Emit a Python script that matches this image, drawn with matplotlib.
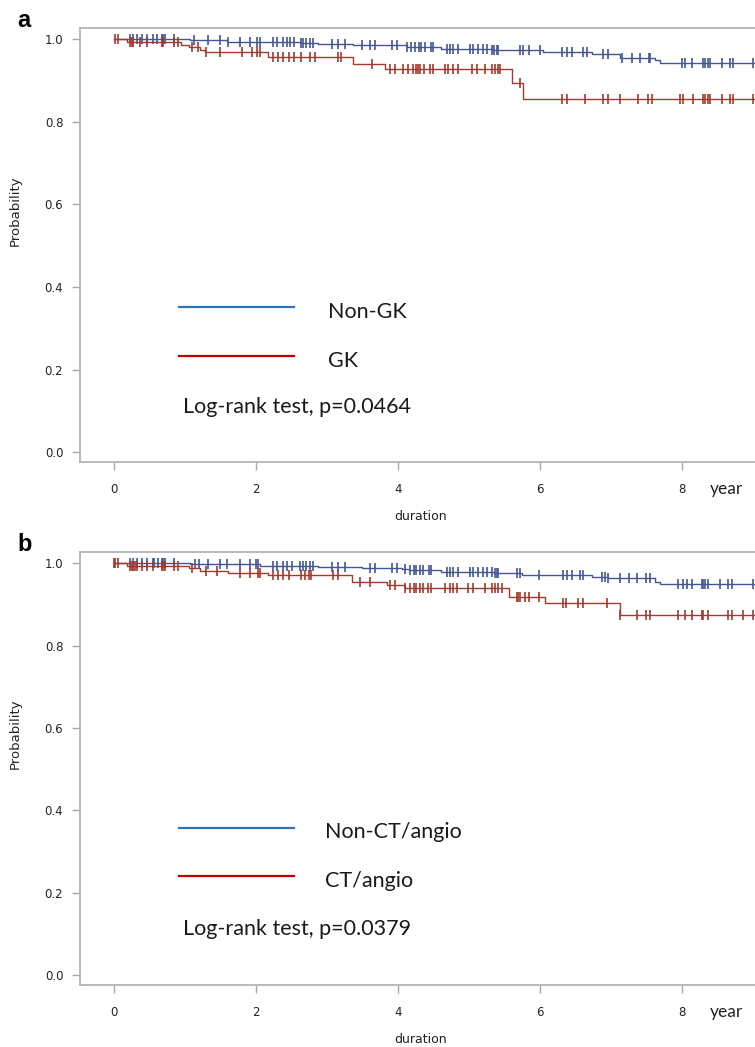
import numpy as np
import matplotlib
matplotlib.use("Agg")
import matplotlib.pyplot as plt
from matplotlib.lines import Line2D

plt.rcParams['font.family'] = ['Liberation Sans Narrow', 'DejaVu Sans']

# Panel a: Non-GK vs GK
a_blue_t = [0, 1.07, 1.59, 2.62, 2.88, 3.37, 4.12, 4.6, 5.32, 6.04, 6.73, 7.13, 7.62, 7.69]
a_blue_s = [1.0, 0.997, 0.994, 0.991, 0.988, 0.985, 0.981, 0.977, 0.973, 0.968, 0.965, 0.955, 0.949, 0.943]
a_blue_cens = [0.225, 0.27, 0.32, 0.39, 0.46, 0.55, 0.60, 0.67, 0.69, 0.72, 0.84, 1.12, 1.33, 1.49, 1.6,
               1.77, 1.92, 2.02, 2.05, 2.24, 2.29, 2.38, 2.43, 2.48, 2.53, 2.63, 2.66, 2.71, 2.76, 2.8,
               3.07, 3.16, 3.25, 3.49, 3.6, 3.68, 3.91, 3.98, 4.13, 4.19, 4.24, 4.3, 4.33, 4.38, 4.47,
               4.49, 4.69, 4.73, 4.78, 4.85, 5.01, 5.06, 5.13, 5.2, 5.25, 5.33, 5.35, 5.39, 5.41, 5.72,
               5.76, 5.84, 6.0, 6.31, 6.38, 6.45, 6.61, 6.66, 6.89, 6.96, 7.15, 7.29, 7.41, 7.53, 7.55,
               8.0, 8.04, 8.14, 8.3, 8.33, 8.36, 8.39, 8.56, 8.68, 8.72, 9.0]

a_red_t = [0, 0.18, 0.95, 1.05, 1.21, 1.28, 2.17, 3.37, 3.82, 5.6, 5.76]
a_red_s = [1.0, 0.992, 0.986, 0.980, 0.974, 0.968, 0.956, 0.941, 0.927, 0.895, 0.856]
a_red_cens = [0.02, 0.05, 0.22, 0.25, 0.27, 0.37, 0.46, 0.67, 0.69, 0.84, 0.9, 1.1, 1.18, 1.3, 1.49,
              1.8, 1.94, 2.02, 2.05, 2.24, 2.31, 2.38, 2.46, 2.53, 2.64, 2.76, 2.83, 3.16, 3.2, 3.63,
              3.89, 3.96, 4.07, 4.14, 4.21, 4.26, 4.28, 4.31, 4.36, 4.45, 4.5, 4.66, 4.71, 4.78, 4.85,
              5.04, 5.11, 5.23, 5.32, 5.36, 5.41, 5.43, 5.72, 6.31, 6.38, 6.63, 6.89, 6.96, 7.13, 7.38,
              7.52, 7.58, 7.97, 8.01, 8.15, 8.29, 8.32, 8.36, 8.39, 8.56, 8.68, 8.72, 9.0]

# Panel b: Non-CT/angio vs CT/angio
b_blue_t = [0, 1.07, 2.05, 2.88, 3.5, 4.05, 4.15, 4.6, 5.35, 5.74, 6.73, 6.96, 7.62, 7.69]
b_blue_s = [1.0, 0.998, 0.994, 0.991, 0.989, 0.986, 0.983, 0.979, 0.975, 0.972, 0.967, 0.963, 0.955, 0.949]
b_blue_cens = [0.225, 0.27, 0.32, 0.39, 0.46, 0.55, 0.57, 0.62, 0.67, 0.69, 0.72, 0.84, 1.14, 1.2, 1.33,
               1.49, 1.59, 1.77, 1.92, 2.0, 2.03, 2.24, 2.29, 2.38, 2.43, 2.5, 2.62, 2.66, 2.71, 2.76,
               2.8, 3.07, 3.16, 3.25, 3.6, 3.68, 3.91, 3.98, 4.1, 4.17, 4.22, 4.26, 4.31, 4.35, 4.43,
               4.47, 4.69, 4.73, 4.78, 4.85, 5.01, 5.06, 5.13, 5.2, 5.25, 5.32, 5.36, 5.39, 5.41, 5.67,
               5.72, 5.98, 6.33, 6.38, 6.45, 6.57, 6.61, 6.87, 6.92, 6.96, 7.13, 7.25, 7.36, 7.5, 7.55,
               7.95, 8.02, 8.07, 8.14, 8.28, 8.3, 8.33, 8.37, 8.53, 8.65, 8.7, 9.0]

b_red_t = [0, 0.18, 1.05, 1.21, 1.6, 2.17, 3.35, 3.84, 4.1, 5.57, 6.07, 7.12]
b_red_s = [1.0, 0.994, 0.988, 0.982, 0.977, 0.971, 0.955, 0.947, 0.939, 0.918, 0.904, 0.875]
b_red_cens = [0.0, 0.02, 0.05, 0.22, 0.25, 0.27, 0.3, 0.32, 0.39, 0.46, 0.55, 0.67, 0.69, 0.72, 0.84,
              0.9, 1.1, 1.3, 1.45, 1.77, 1.92, 2.03, 2.05, 2.24, 2.31, 2.38, 2.46, 2.64, 2.69, 2.74,
              2.78, 3.09, 3.16, 3.46, 3.6, 3.89, 3.96, 4.1, 4.17, 4.22, 4.26, 4.31, 4.35, 4.42, 4.47,
              4.66, 4.73, 4.77, 4.83, 4.99, 5.06, 5.23, 5.32, 5.37, 5.41, 5.46, 5.67, 5.69, 5.72, 5.79,
              5.84, 5.98, 6.33, 6.37, 6.54, 6.61, 6.94, 7.12, 7.36, 7.5, 7.55, 7.95, 8.04, 8.14, 8.28,
              8.30, 8.37, 8.65, 8.7, 8.86, 9.0]

panel_letters = ['a', 'b']
group_labels = [['Non-GK', 'GK'], ['Non-CT/angio', 'CT/angio']]
pvalues = ['Log-rank test, p=0.0464', 'Log-rank test, p=0.0379']
x_ticks = [0, 2, 4, 6, 8]
y_ticks = [0.0, 0.2, 0.4, 0.6, 0.8, 1.0]

curve_blue = '#445694'
curve_red = '#a23a2e'
key_blue = '#2e75b6'
key_red = '#c00000'
gray = '#b4b4b4'
t_end = 9.15


def km(ax, t, s, cens, color):
    t = np.array(t + [t_end])
    s = np.array(s + [s[-1]])
    ax.step(t, s, where='post', color=color, lw=1.0)
    cens = np.array(cens)
    cy = s[np.searchsorted(t, cens, side='right') - 1]
    ax.plot(cens, cy, ls='none', marker='|', ms=7, mew=1.2, color=color)


fig = plt.figure(figsize=(7.55, 10.47), dpi=100)
W, H = 755.0, 1047.0

# axes boxes in pixels: left, top, right, bottom
boxes = [(80, 28, 762, 462), (80, 552, 762, 985)]
curves = [
    [(a_blue_t, a_blue_s, a_blue_cens), (a_red_t, a_red_s, a_red_cens)],
    [(b_blue_t, b_blue_s, b_blue_cens), (b_red_t, b_red_s, b_red_cens)],
]
# legend / text positions in pixels (baselines)
key_y = [(307, 356), (828, 876)]
key_text_x = [328, 325]
text_base = [(318, 367), (838, 887)]
pv_base = [413, 935]

for i in range(2):
    l, t, r, b = boxes[i]
    ax = fig.add_axes([l / W, 1 - b / H, (r - l) / W, (b - t) / H])
    (bt, bs, bc), (rt, rs, rc) = curves[i]
    km(ax, bt, bs, bc, curve_blue)
    km(ax, rt, rs, rc, curve_red)

    ax.set_xlim(-0.479, 9.127)
    ax.set_ylim(-0.024, 1.027)
    ax.set_xticks(x_ticks)
    ax.set_yticks(y_ticks)
    ax.set_yticklabels([f'{v:.1f}' for v in y_ticks])
    ax.spines['right'].set_visible(False)
    for sp in ['left', 'bottom', 'top']:
        ax.spines[sp].set_color(gray)
        ax.spines[sp].set_linewidth(1.3)
    ax.tick_params(axis='both', direction='out', length=6, width=1, color='#a8a8a8',
                   labelsize=8.5, labelcolor='#222222')
    ax.tick_params(axis='x', pad=9)
    ax.tick_params(axis='y', pad=6)

    ax.set_xlabel('duration', fontsize=9, color='#222222', labelpad=10)
    ax.set_ylabel('Probability', fontsize=9.5, color='#222222')
    ax.yaxis.set_label_coords(-0.086, 0.58)
    ax.text(8.63, -0.062, 'year', transform=ax.get_xaxis_transform(), ha='center', va='center',
            fontsize=12.5, family=['Lato', 'DejaVu Sans'], color='#222222')

    # panel letter
    fig.text(17 / W, 1 - (t - 1) / H, panel_letters[i], fontsize=17, fontweight='bold',
             family=['Liberation Sans', 'DejaVu Sans'], va='baseline')

    # hand drawn key
    for y_px, c, lab, base in zip(key_y[i], [key_blue, key_red], group_labels[i], text_base[i]):
        fig.add_artist(Line2D([179 / W, 294 / W], [1 - y_px / H, 1 - y_px / H], color=c, lw=1.6))
        fig.text(key_text_x[i] / W, 1 - base / H, lab, fontsize=15.5, va='baseline',
                 family=['Lato', 'DejaVu Sans'], color='#1a1a1a')
    fig.text(183 / W, 1 - pv_base[i] / H, pvalues[i], fontsize=15.5, va='baseline',
             family=['Lato', 'DejaVu Sans'], color='#1a1a1a')

fig.savefig('out.png', dpi=100)
